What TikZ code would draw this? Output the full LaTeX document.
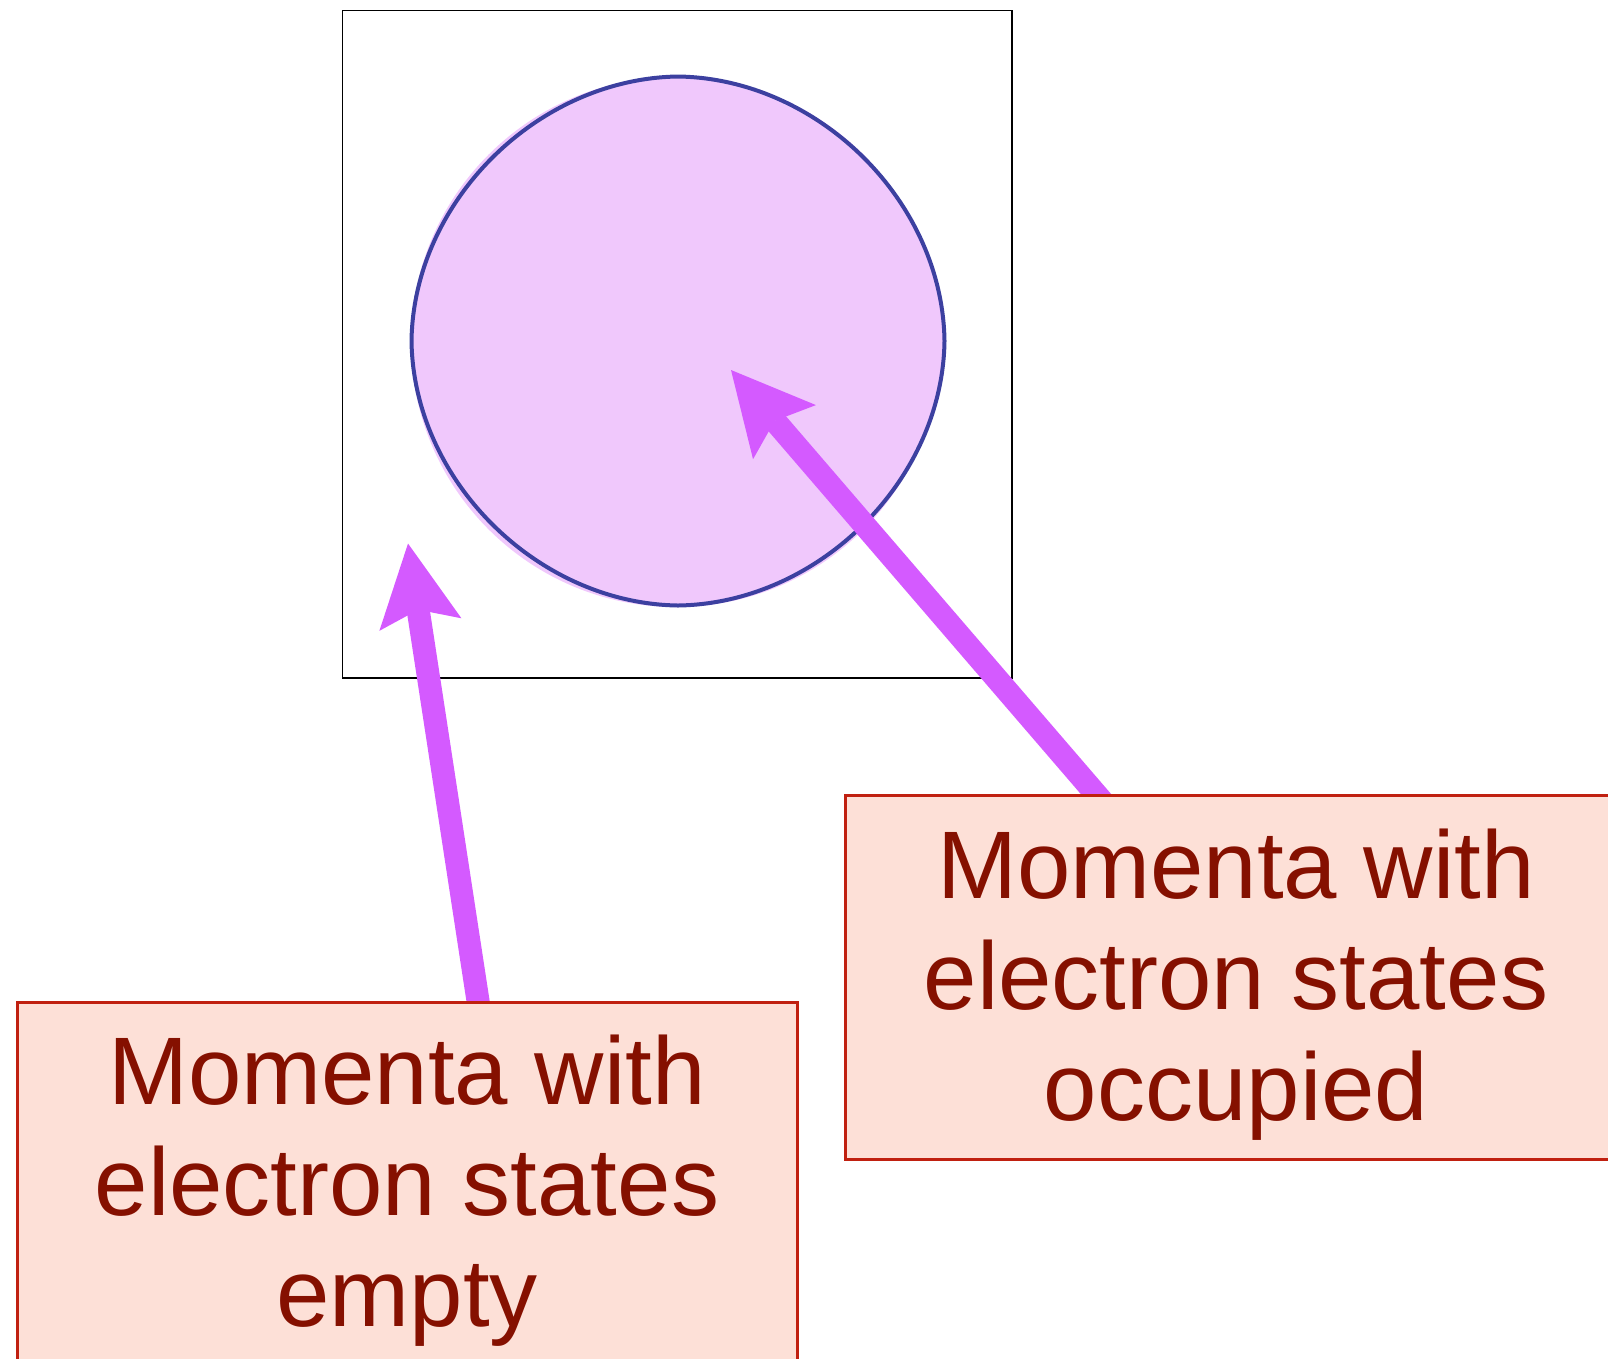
\documentclass[tikz,border=0pt]{standalone}
\usepackage{fontspec}
\setmainfont{Liberation Sans}
\usetikzlibrary{arrows.meta}
\definecolor{blobfill}{HTML}{F0C8FC}
\definecolor{blobline}{HTML}{3C40A0}
\definecolor{arrowcol}{HTML}{D45AFF}
\definecolor{boxfill}{HTML}{FDE0D7}
\definecolor{boxline}{HTML}{C02010}
\definecolor{boxtextcol}{HTML}{851000}
\tikzset{
  labelbox/.style={draw=boxline, fill=boxfill, line width=3pt, inner sep=0pt},
  labeltext/.style={text=boxtextcol, align=center, inner sep=0pt,
    font=\fontsize{96}{111}\selectfont},
  fermiarrow/.style={draw=arrowcol, line width=23pt,
    -{Stealth[length=82pt,width=83pt,inset=15pt,line width=0pt,fill=arrowcol]}},
  frameline/.style={draw=black, line width=1.5pt},
  blobstyle/.style={draw=blobline, fill=blobfill, line width=4pt}
}
\begin{document}
\begin{tikzpicture}[x=1pt,y=-1pt]
\useasboundingbox (0,0) rectangle (1608,1358);
% frame
\draw[frameline] (342.5,10.3) rectangle (1012,678);
% filled circle under the outline
\coordinate (blobc) at (678,341);
\fill[blobfill] (676,342) circle[radius=265];
% blob outline (slightly pointed at the axes)
\draw[blobstyle]
  (678,76.5)
  .. controls (818,78.5) and (942.5,201) .. (944.5,341)
  .. controls (942.5,481) and (818,603.5) .. (678,605.5)
  .. controls (538,603.5) and (413.5,481) .. (411.5,341)
  .. controls (413.5,201) and (538,78.5) .. cycle;
% arrow tips
\coordinate (ltip) at (408,543.5);
\coordinate (rtip) at (731,370);
% boxes (geometry only, drawn later on top of the arrow tails)
\path (407.25,1002) node[labelbox, draw=none, fill=none, minimum width=777.5pt, minimum height=500pt, anchor=north] (lbox) {};
\path (1247,795) node[labelbox, draw=none, fill=none, minimum width=800pt, minimum height=361pt, anchor=north] (rbox) {};
% arrows
\draw[fermiarrow] ([xshift=74pt,yshift=-20pt]lbox.north) -- (ltip);
\draw[fermiarrow] ([xshift=-133pt,yshift=-20pt]rbox.north) -- (rtip);
% box bodies on top of the arrow tails
\draw[draw=boxline, fill=boxfill, line width=3pt] (lbox.south west) rectangle (lbox.north east);
\draw[draw=boxline, fill=boxfill, line width=3pt] (rbox.south west) rectangle (rbox.north east);
% texts
\node[labeltext, anchor=north] (ltext) at (407,1035) {Momenta with\\electron states\\empty};
\node[labeltext, anchor=north] (rtext) at (1236,829) {Momenta with\\electron states\\occupied};
\end{tikzpicture}
\end{document}
